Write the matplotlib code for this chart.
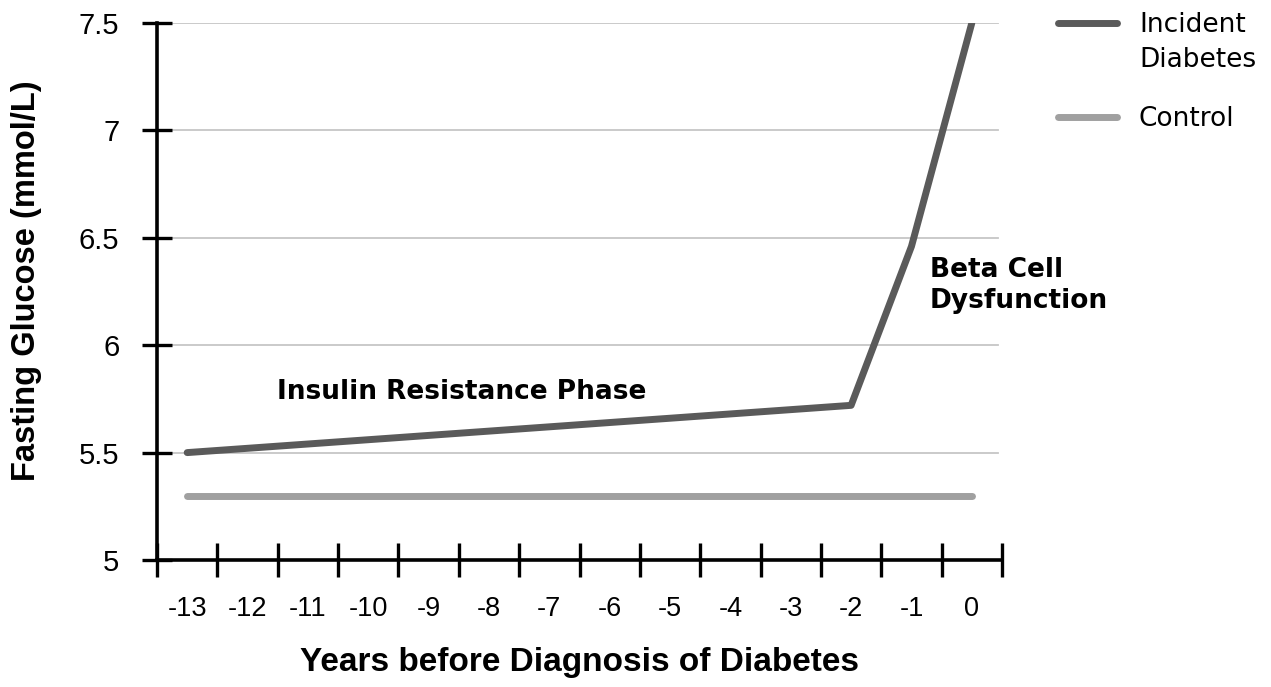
import matplotlib
matplotlib.use('Agg')
import matplotlib.pyplot as plt
from matplotlib.lines import Line2D
from matplotlib.ticker import FixedLocator

# data
years = ['-13', '-12', '-11', '-10', '-9', '-8', '-7', '-6', '-5', '-4', '-3', '-2', '-1', '0']
incident = [5.50, 5.52, 5.54, 5.56, 5.58, 5.60, 5.62, 5.64, 5.66, 5.68, 5.70, 5.72, 6.46, 7.50]
control = [5.30, 5.30, 5.30, 5.30, 5.30, 5.30, 5.30, 5.30, 5.30, 5.30, 5.30, 5.30, 5.30, 5.30]
y_ticks = [5, 5.5, 6, 6.5, 7, 7.5]
y_labels = ['5', '5.5', '6', '6.5', '7', '7.5']

c_incident = '#5a5a5a'
c_control = '#a0a0a0'

plt.rcParams['font.family'] = ['Liberation Sans', 'DejaVu Sans']

W, H = 1271, 687
fig = plt.figure(figsize=(W / 100, H / 100), dpi=100)
ax = fig.add_axes([157 / W, 1 - 560 / H, 845 / W, 537 / H])

x = list(range(len(years)))
ax.plot(x, incident, color=c_incident, lw=5, solid_capstyle='round', solid_joinstyle='round', zorder=3)
ax.plot(x, control, color=c_control, lw=5, solid_capstyle='round', zorder=3)

ax.set_xlim(-0.5, len(years) - 0.5)
ax.set_ylim(5, 7.5)

# category labels at centres, tick marks at boundaries
ax.set_xticks(x)
ax.set_xticklabels(years, fontsize=19.5)
ax.xaxis.set_minor_locator(FixedLocator([i - 0.5 for i in range(len(years) + 1)]))
ax.tick_params(axis='x', which='major', length=0, pad=26)
ax.tick_params(axis='x', which='minor', direction='inout', length=24, width=2.4, color='black')

ax.set_yticks(y_ticks)
ax.set_yticklabels(y_labels, fontsize=21)
ax.tick_params(axis='y', direction='inout', length=22, width=2.4, pad=16)

for s in ['top', 'right']:
    ax.spines[s].set_visible(False)
ax.spines['left'].set_linewidth(2.6)
ax.spines['bottom'].set_linewidth(2.6)

for yv in y_ticks[1:]:
    ax.axhline(yv, xmax=0.995, color='#c6c6c6', lw=1.3, zorder=1)

ax.set_ylabel('Fasting Glucose (mmol/L)', fontsize=23.5, fontweight='bold')
ax.yaxis.set_label_coords(-0.136, 0.521)
ax.set_xlabel('Years before Diagnosis of Diabetes', fontsize=24, fontweight='bold', labelpad=18)

ax.text(4.55, 5.78, 'Insulin Resistance Phase', fontsize=19, fontweight='bold',
        family='DejaVu Sans', ha='center', va='center')
ax.text(12.3, 6.28, 'Beta Cell\nDysfunction', fontsize=19, fontweight='bold',
        family='DejaVu Sans', ha='left', va='center', linespacing=1.25)

# legend, first handle sits beside the first text line as in the reference
fig.add_artist(Line2D([1058 / W, 1117 / W], [1 - 23 / H, 1 - 23 / H], transform=fig.transFigure,
                      color=c_incident, lw=5, solid_capstyle='round'))
fig.add_artist(Line2D([1058 / W, 1117 / W], [1 - 117 / H, 1 - 117 / H], transform=fig.transFigure,
                      color=c_control, lw=5, solid_capstyle='round'))
fig.text(1139 / W, 1 - 25 / H, 'Incident', fontsize=19, family='DejaVu Sans', va='center')
fig.text(1139 / W, 1 - 60 / H, 'Diabetes', fontsize=19, family='DejaVu Sans', va='center')
fig.text(1139 / W, 1 - 119 / H, 'Control', fontsize=19, family='DejaVu Sans', va='center')

fig.savefig('out.png', dpi=100, facecolor='white')
